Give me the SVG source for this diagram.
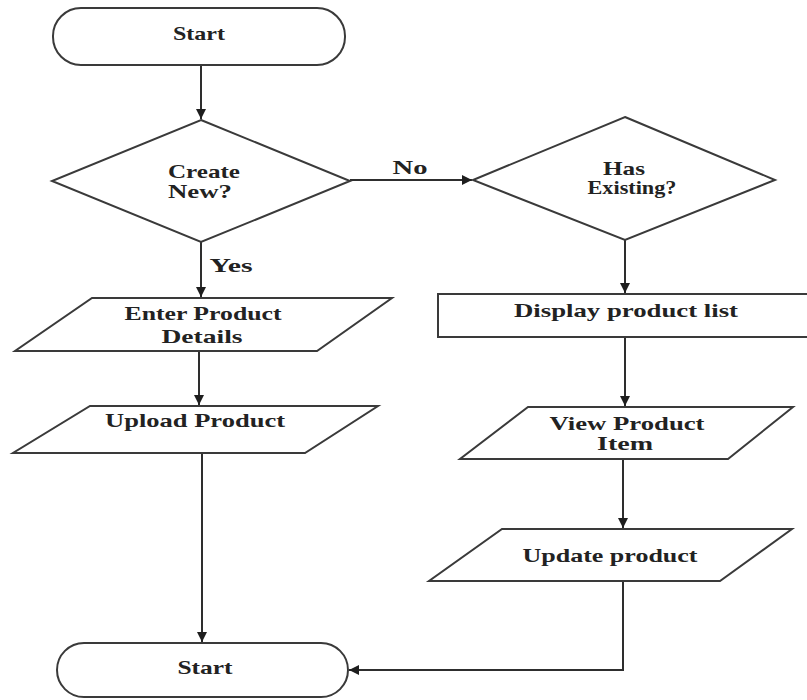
<svg xmlns="http://www.w3.org/2000/svg" width="807" height="700" viewBox="0 0 807 700">
<style>
.shape{fill:#fff;stroke:#3a3a3a;stroke-width:2}
.conn{fill:none;stroke:#2e2e2e;stroke-width:2}
text{font-family:"Liberation Serif","Times New Roman",serif;font-size:19px;fill:#222;font-weight:bold;text-anchor:middle}
</style>
<defs>
<marker id="arr" viewBox="0 0 10 10" refX="10" refY="5" markerWidth="10" markerHeight="10" markerUnits="userSpaceOnUse" orient="auto">
<path d="M0,0 L10,5 L0,10 z" fill="#1e1e1e"/>
</marker>
</defs>
<rect width="807" height="700" fill="#fff"/>
<g id="connectors">
<line class="conn" x1="201" y1="65" x2="201" y2="119" marker-end="url(#arr)"/>
<line class="conn" x1="350" y1="180" x2="472" y2="180" marker-end="url(#arr)"/>
<line class="conn" x1="625" y1="240" x2="625" y2="293" marker-end="url(#arr)"/>
<line class="conn" x1="625" y1="337" x2="625" y2="406" marker-end="url(#arr)"/>
<line class="conn" x1="623" y1="459" x2="623" y2="528" marker-end="url(#arr)"/>
<polyline class="conn" points="623,581 623,670 349,670" marker-end="url(#arr)"/>
<line class="conn" x1="201" y1="242" x2="201" y2="297" marker-end="url(#arr)"/>
<line class="conn" x1="199" y1="351" x2="199" y2="405" marker-end="url(#arr)"/>
<line class="conn" x1="202" y1="453" x2="202" y2="642" marker-end="url(#arr)"/>
<text x="410" y="174" textLength="35" lengthAdjust="spacingAndGlyphs">No</text>
<text x="231" y="272" textLength="43" lengthAdjust="spacingAndGlyphs">Yes</text>
</g>
<g id="start">
<rect class="shape" x="53" y="8" width="292" height="57" rx="28" ry="28"/>
<text x="199" y="40" textLength="52" lengthAdjust="spacingAndGlyphs">Start</text>
</g>
<g id="create-new">
<polygon class="shape" points="201,120 350,181 201,242 52,181"/>
<text x="204" y="178" textLength="72" lengthAdjust="spacingAndGlyphs">Create</text>
<text x="200" y="198" textLength="64" lengthAdjust="spacingAndGlyphs">New?</text>
</g>
<g id="has-existing">
<polygon class="shape" points="625,117 775,180 625,240 473,180"/>
<text x="624" y="175" textLength="42" lengthAdjust="spacingAndGlyphs">Has</text>
<text x="632" y="194" textLength="89" lengthAdjust="spacingAndGlyphs">Existing?</text>
</g>
<g id="display-list">
<rect class="shape" x="438" y="294" width="370" height="43"/>
<text x="626" y="317" textLength="224" lengthAdjust="spacingAndGlyphs">Display product list</text>
</g>
<g id="enter-details">
<polygon class="shape" points="92,298 392,298 317,351 15,351"/>
<text x="203" y="320" textLength="157" lengthAdjust="spacingAndGlyphs">Enter Product</text>
<text x="202" y="343" textLength="81" lengthAdjust="spacingAndGlyphs">Details</text>
</g>
<g id="upload-product">
<polygon class="shape" points="90,406 378,406 305,453 13,453"/>
<text x="195" y="427" textLength="180" lengthAdjust="spacingAndGlyphs">Upload Product</text>
</g>
<g id="view-item">
<polygon class="shape" points="528,407 793,407 728,459 460,459"/>
<text x="627" y="430" textLength="155" lengthAdjust="spacingAndGlyphs">View Product</text>
<text x="625" y="450" textLength="56" lengthAdjust="spacingAndGlyphs">Item</text>
</g>
<g id="update-product">
<polygon class="shape" points="502,529 792,529 720,581 429,581"/>
<text x="610" y="562" textLength="175" lengthAdjust="spacingAndGlyphs">Update product</text>
</g>
<g id="end">
<rect class="shape" x="57" y="643" width="291" height="54" rx="27" ry="27"/>
<text x="205" y="674" textLength="55" lengthAdjust="spacingAndGlyphs">Start</text>
</g>
</svg>
